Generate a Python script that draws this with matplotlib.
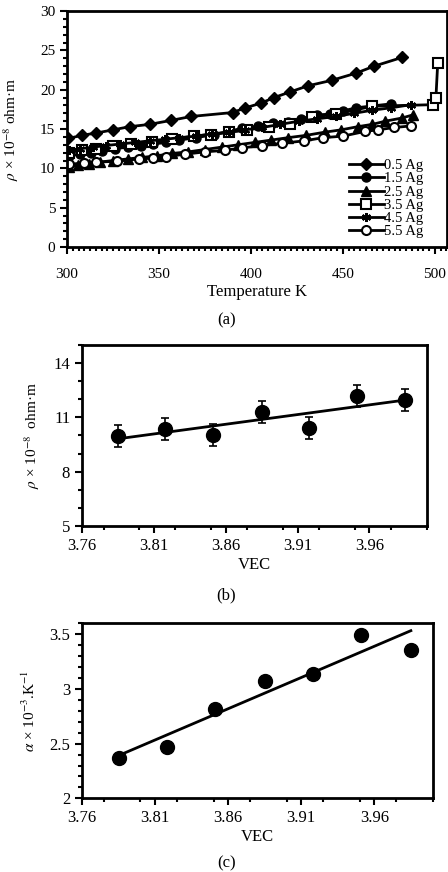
import numpy as np
import matplotlib
matplotlib.use('Agg')
import matplotlib.pyplot as plt
from matplotlib.ticker import MultipleLocator, FixedLocator

plt.rcParams['font.family'] = ['Liberation Serif', 'DejaVu Serif']
plt.rcParams['mathtext.fontset'] = 'stix'

# (a) resistivity vs temperature
t05 = [300.7, 308, 316, 325, 334, 345, 356.5, 367.5, 390, 397, 405.5, 412.5, 421, 431, 444, 457, 467, 482]
r05 = [13.8, 14.2, 14.5, 14.9, 15.3, 15.6, 16.1, 16.6, 17.1, 17.7, 18.3, 19.0, 19.7, 20.5, 21.2, 22.1, 23.0, 24.1]
t15 = [301, 307, 313, 319, 326, 333, 340, 347, 354, 361, 370, 380, 388, 395, 404, 412, 420, 427, 436, 443, 450, 457, 476]
r15 = [11.6, 11.8, 12.0, 12.2, 12.5, 12.7, 12.9, 13.1, 13.3, 13.6, 13.9, 14.3, 14.7, 15.1, 15.4, 15.8, 15.9, 16.3, 16.8, 16.9, 17.3, 17.7, 18.2]
t25 = [301, 306, 312, 318, 325, 333, 341, 349, 357, 366, 375, 384, 393, 402, 411, 420, 430, 440, 449, 458, 466, 473, 482, 488]
r25 = [10.2, 10.4, 10.6, 10.8, 11.0, 11.2, 11.4, 11.6, 11.9, 12.1, 12.4, 12.7, 13.0, 13.3, 13.6, 13.9, 14.2, 14.6, 14.9, 15.3, 15.6, 16.0, 16.4, 16.8]
t35 = [301, 308, 316, 325, 335, 346, 357, 369, 378, 388, 398, 410, 421, 433, 446, 466, 499, 500.5, 501.5]
r35 = [12.0, 12.3, 12.5, 12.8, 13.1, 13.4, 13.7, 14.1, 14.3, 14.6, 14.9, 15.3, 15.6, 16.5, 16.9, 17.9, 18.1, 18.9, 23.4]
t45 = [301, 307, 314, 321, 329, 337, 345, 353, 361, 370, 379, 388, 397, 406, 416, 426, 436, 446, 456, 466, 476, 487]
r45 = [12.3, 12.5, 12.7, 12.9, 13.1, 13.3, 13.5, 13.7, 13.9, 14.1, 14.4, 14.6, 14.9, 15.2, 15.6, 16.0, 16.3, 16.6, 17.0, 17.4, 17.7, 18.1]
t55 = [301, 309, 316, 327, 339, 347, 354, 364, 375, 386, 395, 406, 417, 429, 439, 450, 462, 469, 478, 487]
r55 = [10.5, 10.7, 10.8, 10.9, 11.2, 11.3, 11.5, 11.8, 12.1, 12.3, 12.6, 12.9, 13.2, 13.5, 13.9, 14.1, 14.7, 14.9, 15.2, 15.4]

# (b), (c) vs VEC
vec = [3.785, 3.818, 3.851, 3.885, 3.918, 3.951, 3.985]
rho_vec = [9.97, 10.36, 10.03, 11.28, 10.41, 12.18, 11.96]
rho_err = [0.6, 0.6, 0.6, 0.6, 0.6, 0.6, 0.6]
alpha_vec = [2.37, 2.47, 2.82, 3.07, 3.14, 3.49, 3.36]

fig = plt.figure(figsize=(4.48, 8.72), dpi=100)

def style(ax, lw=2.0):
    for s in ax.spines.values():
        s.set_linewidth(lw)
    ax.tick_params(which='major', direction='out', length=5, width=1.5, labelsize=11)
    ax.tick_params(which='minor', direction='out', length=3, width=1.5)

# panel a
ax1 = fig.add_axes([0.1496, 0.7167, 0.848, 0.2706])
k = dict(color='black', lw=2, ms=6.5)
ax1.plot(t05, r05, marker='D', label='0.5 Ag', **k)
ax1.plot(t15, r15, marker='o', label='1.5 Ag', **k)
ax1.plot(t25, r25, marker='^', label='2.5 Ag', **k)
ax1.plot(t35, r35, marker='s', mfc='white', mew=1.5, label='3.5 Ag', **k)
ax1.plot(t45, r45, marker=(6, 2, 0), mew=1.5, label='4.5 Ag', **k)
ax1.plot(t55, r55, marker='o', mfc='white', mew=1.5, label='5.5 Ag', **k)
ax1.set_xlim(300, 506.5)
ax1.set_ylim(0, 30)
ax1.xaxis.set_major_locator(FixedLocator([300, 350, 400, 450, 500]))
ax1.xaxis.set_minor_locator(MultipleLocator(50 / 16))
ax1.yaxis.set_major_locator(MultipleLocator(5))
ax1.yaxis.set_minor_locator(MultipleLocator(1))
style(ax1)
ax1.tick_params(axis='x', pad=10)
ax1.set_xlabel('Temperature K', fontsize=12, labelpad=2)
ax1.set_ylabel(r'$\rho$ × 10$^{-8}$ ohm·m', fontsize=11, labelpad=14)
ax1.legend(loc='lower right', bbox_to_anchor=(0.96, 0.0), frameon=False, fontsize=10.5,
           handlelength=2.4, handletextpad=0.0, labelspacing=0.0, borderpad=0.1)
fig.text(0.505, 1 - 320 / 872, '(a)', ha='center', va='center', fontsize=12)

# panel b
ax2 = fig.add_axes([0.183, 0.3968, 0.770, 0.2076])
ax2.errorbar(vec, rho_vec, yerr=rho_err, fmt='o', color='black', ms=10,
             capsize=3, elinewidth=1.2, capthick=1.2)
cb = np.polyfit(vec, rho_vec, 1)
ax2.plot([vec[0], vec[-1]], np.polyval(cb, [vec[0], vec[-1]]), color='black', lw=2)
ax2.set_xlim(3.76, 4.0)
ax2.set_ylim(5, 15)
ax2.xaxis.set_major_locator(FixedLocator([3.76, 3.81, 3.86, 3.91, 3.96]))
ax2.xaxis.set_minor_locator(MultipleLocator(0.025))
ax2.yaxis.set_major_locator(FixedLocator([5, 8, 11, 14]))
ax2.yaxis.set_minor_locator(MultipleLocator(1))
ax2.xaxis.set_major_formatter(plt.FuncFormatter(lambda v, p: f'{v:.2f}'))
style(ax2)
ax2.tick_params(labelsize=12)
ax2.set_xlabel('VEC', fontsize=12, labelpad=2)
ax2.set_ylabel(r'$\rho$ × 10$^{-8}$  ohm·m', fontsize=11, labelpad=8)
fig.text(0.505, 1 - 595 / 872, '(b)', ha='center', va='center', fontsize=12)

# panel c
ax3 = fig.add_axes([0.183, 0.0845, 0.783, 0.2007])
ax3.plot(vec, alpha_vec, 'o', color='black', ms=10)
cc = np.polyfit(vec, alpha_vec, 1)
ax3.plot([vec[0], vec[-1]], np.polyval(cc, [vec[0], vec[-1]]), color='black', lw=2)
ax3.set_xlim(3.76, 4.0)
ax3.set_ylim(2, 3.6)
ax3.xaxis.set_major_locator(FixedLocator([3.76, 3.81, 3.86, 3.91, 3.96]))
ax3.xaxis.set_minor_locator(MultipleLocator(0.025))
ax3.yaxis.set_major_locator(FixedLocator([2, 2.5, 3, 3.5]))
ax3.yaxis.set_minor_locator(MultipleLocator(0.1))
ax3.xaxis.set_major_formatter(plt.FuncFormatter(lambda v, p: f'{v:.2f}'))
ax3.yaxis.set_major_formatter(plt.FuncFormatter(lambda v, p: f'{v:g}'))
style(ax3)
ax3.tick_params(labelsize=12)
ax3.set_xlabel('VEC', fontsize=12, labelpad=2)
ax3.set_ylabel(r'$\alpha$ × 10$^{-3}$.K$^{-1}$', fontsize=11, labelpad=8)
fig.text(0.505, 1 - 863 / 872, '(c)', ha='center', va='center', fontsize=12)

fig.savefig('out.png', dpi=100)
